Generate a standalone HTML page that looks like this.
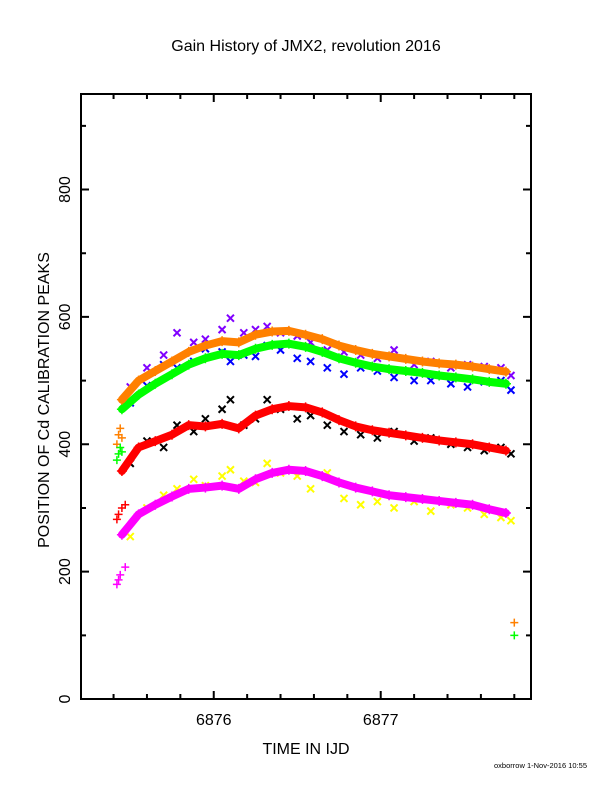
<!DOCTYPE html>
<html><head><meta charset="utf-8"><style>
html,body{margin:0;padding:0;background:#fff;}
svg{display:block;font-family:"Liberation Sans",sans-serif;}
</style></head><body>
<svg id="chart" width="612" height="792" viewBox="0 0 612 792" xmlns="http://www.w3.org/2000/svg">
<rect width="612" height="792" fill="#fff"/>
<text x="306" y="51" text-anchor="middle" font-size="16">Gain History of JMX2, revolution 2016</text>
<text x="306" y="754" text-anchor="middle" font-size="16">TIME IN IJD</text>
<text transform="translate(49,400) rotate(-90)" text-anchor="middle" font-size="16">POSITION OF Cd CALIBRATION PEAKS</text>
<text x="587" y="768" text-anchor="end" font-size="7.5">oxborrow  1-Nov-2016 10:55</text>
<g id="marks"></g>
<g id="axes"></g>
</svg>
<script>
const xTickLabels = ["6876", "6877"];
const yTickLabels = ["0", "200", "400", "600", "800"];
const smoothTimes = [6875.45,6875.55,6875.65,6875.75,6875.85,6875.95,6876.05,6876.15,6876.25,6876.35,6876.45,6876.55,6876.65,6876.75,6876.85,6876.95,6877.05,6877.15,6877.25,6877.35,6877.45,6877.55,6877.65,6877.75];
const orangeVals = [470,500,515,530,545,555,562,560,572,577,578,572,565,555,548,542,538,534,530,527,525,522,518,514];
const greenVals = [455,478,495,510,525,535,542,540,550,556,558,553,545,535,528,522,518,515,512,508,505,502,498,495];
const redVals = [358,395,405,415,430,428,432,425,445,455,460,458,450,438,428,422,418,414,410,406,403,400,395,390];
const magentaVals = [258,290,305,318,330,332,335,330,345,355,360,358,350,340,332,326,320,317,314,311,308,305,298,292];
const scatterTimes = [6875.5,6875.6,6875.7,6875.78,6875.88,6875.95,6876.05,6876.1,6876.18,6876.25,6876.32,6876.4,6876.5,6876.58,6876.68,6876.78,6876.88,6876.98,6877.08,6877.2,6877.3,6877.42,6877.52,6877.62,6877.72,6877.78];
const purpleVals = [490,520,540,575,560,565,580,598,575,580,585,575,570,560,548,545,540,535,548,525,530,520,525,522,520,508];
const blueVals = [465,492,525,520,530,550,545,530,540,538,555,548,535,530,520,510,520,515,505,500,500,495,490,498,500,485];
const blackVals = [370,405,395,430,420,440,455,470,430,440,470,455,440,445,430,420,415,410,420,405,410,400,395,390,395,385];
const yellowVals = [255,300,320,330,345,335,350,360,342,340,370,355,350,330,355,315,305,310,300,310,295,305,300,290,285,280];
const earlyOrangeT = [6875.42,6875.43,6875.44,6875.45];
const earlyOrangeV = [400,415,425,410];
const earlyGreenT = [6875.42,6875.43,6875.44,6875.45];
const earlyGreenV = [375,385,395,388];
const earlyRedT = [6875.42,6875.43,6875.45,6875.47];
const earlyRedV = [282,290,300,305];
const earlyMagentaT = [6875.42,6875.43,6875.44,6875.47];
const earlyMagentaV = [180,187,195,207];
const lateT = [6877.8,6877.8];
const lateV = [120,100];

const X0=81, X1=531, Y0=699, Y1=94;
const TMIN=6875.205, TMAX=6877.9, VMIN=0, VMAX=950;
function xs(t){return X0+(t-TMIN)/(TMAX-TMIN)*(X1-X0);}
function ys(v){return Y0-(v-VMIN)/(VMAX-VMIN)*(Y0-Y1);}
const NS="http://www.w3.org/2000/svg";
const marks=document.getElementById('marks');
const axes=document.getElementById('axes');
function mk(tag,attrs,parent){const e=document.createElementNS(NS,tag);for(const k in attrs)e.setAttribute(k,attrs[k]);parent.appendChild(e);return e;}

function plus(t,v,color,name,s){
  const g=mk('g',{},marks);
  
  
  const x=xs(t),y=ys(v);
  mk('path',{d:`M${x-s},${y}H${x+s}M${x},${y-s}V${y+s}`,stroke:color,'stroke-width':1.5},g);
}
function cross(t,v,color,name){
  const g=mk('g',{},marks);
  
  
  const x=xs(t),y=ys(v),s=3.5;
  mk('path',{d:`M${x-s},${y-s}L${x+s},${y+s}M${x-s},${y+s}L${x+s},${y-s}`,stroke:color,'stroke-width':2},g);
}
function smooth(times,vals,color,name){
  const pts=times.map((t,i)=>xs(t)+','+ys(vals[i])).join(' ');
  const pl=mk('polyline',{points:pts,fill:'none',stroke:color,'stroke-width':8,'stroke-linejoin':'round','stroke-linecap':'round'},marks);
  
  
  times.forEach((t,i)=>plus(t,vals[i],color,name+'-point',5));
}
function scatter(times,vals,color,name){times.forEach((t,i)=>cross(t,vals[i],color,name));}

scatter(scatterTimes,purpleVals,'#8000ff','purple-point');
scatter(scatterTimes,blueVals,'#0000ff','blue-point');
scatter(scatterTimes,blackVals,'#000000','black-point');
scatter(scatterTimes,yellowVals,'#ffff00','yellow-point');
smooth(smoothTimes,greenVals,'#00ff00','green-series');
smooth(smoothTimes,orangeVals,'#ff8000','orange-series');
smooth(smoothTimes,redVals,'#ff0000','red-series');
smooth(smoothTimes,magentaVals,'#ff00ff','magenta-series');
earlyOrangeT.forEach((t,i)=>plus(t,earlyOrangeV[i],'#ff8000','early-orange-point',4));
earlyGreenT.forEach((t,i)=>plus(t,earlyGreenV[i],'#00ff00','early-green-point',4));
earlyRedT.forEach((t,i)=>plus(t,earlyRedV[i],'#ff0000','early-red-point',4));
earlyMagentaT.forEach((t,i)=>plus(t,earlyMagentaV[i],'#ff00ff','early-magenta-point',4));
plus(lateT[0],lateV[0],'#ff8000','late-orange-point',4);
plus(lateT[1],lateV[1],'#00ff00','late-green-point',4);

const fr=mk('rect',{x:X0,y:Y1,width:X1-X0,height:Y0-Y1,fill:'none',stroke:'#000','stroke-width':2},axes);


for(let k=0;k<=13;k++){
  const t=6875.4+0.2*k; if(t>TMAX) break;
  const x=xs(t); const major=Math.abs(t-Math.round(t))<1e-6; const L=major?8:5;
  const tk=mk('path',{d:`M${x},${Y0}V${Y0-L}M${x},${Y1}V${Y1+L}`,stroke:'#000','stroke-width':2},axes);
  
  
}
xTickLabels.forEach(l=>{
  const tx=mk('text',{x:xs(+l),y:Y0+26,'text-anchor':'middle','font-size':16},axes);
  tx.textContent=l;
  
  
});
for(let v=0;v<=900;v+=100){
  const y=ys(v); const L=(v%200===0)?8:5;
  const tk=mk('path',{d:`M${X0},${y}H${X0+L}M${X1},${y}H${X1-L}`,stroke:'#000','stroke-width':2},axes);
  
  
}
yTickLabels.forEach(l=>{
  const y=ys(+l);
  const tx=mk('text',{transform:`translate(70,${y}) rotate(-90)`,'text-anchor':'middle','font-size':16},axes);
  tx.textContent=l;
  
  
});
</script>
</body></html>
